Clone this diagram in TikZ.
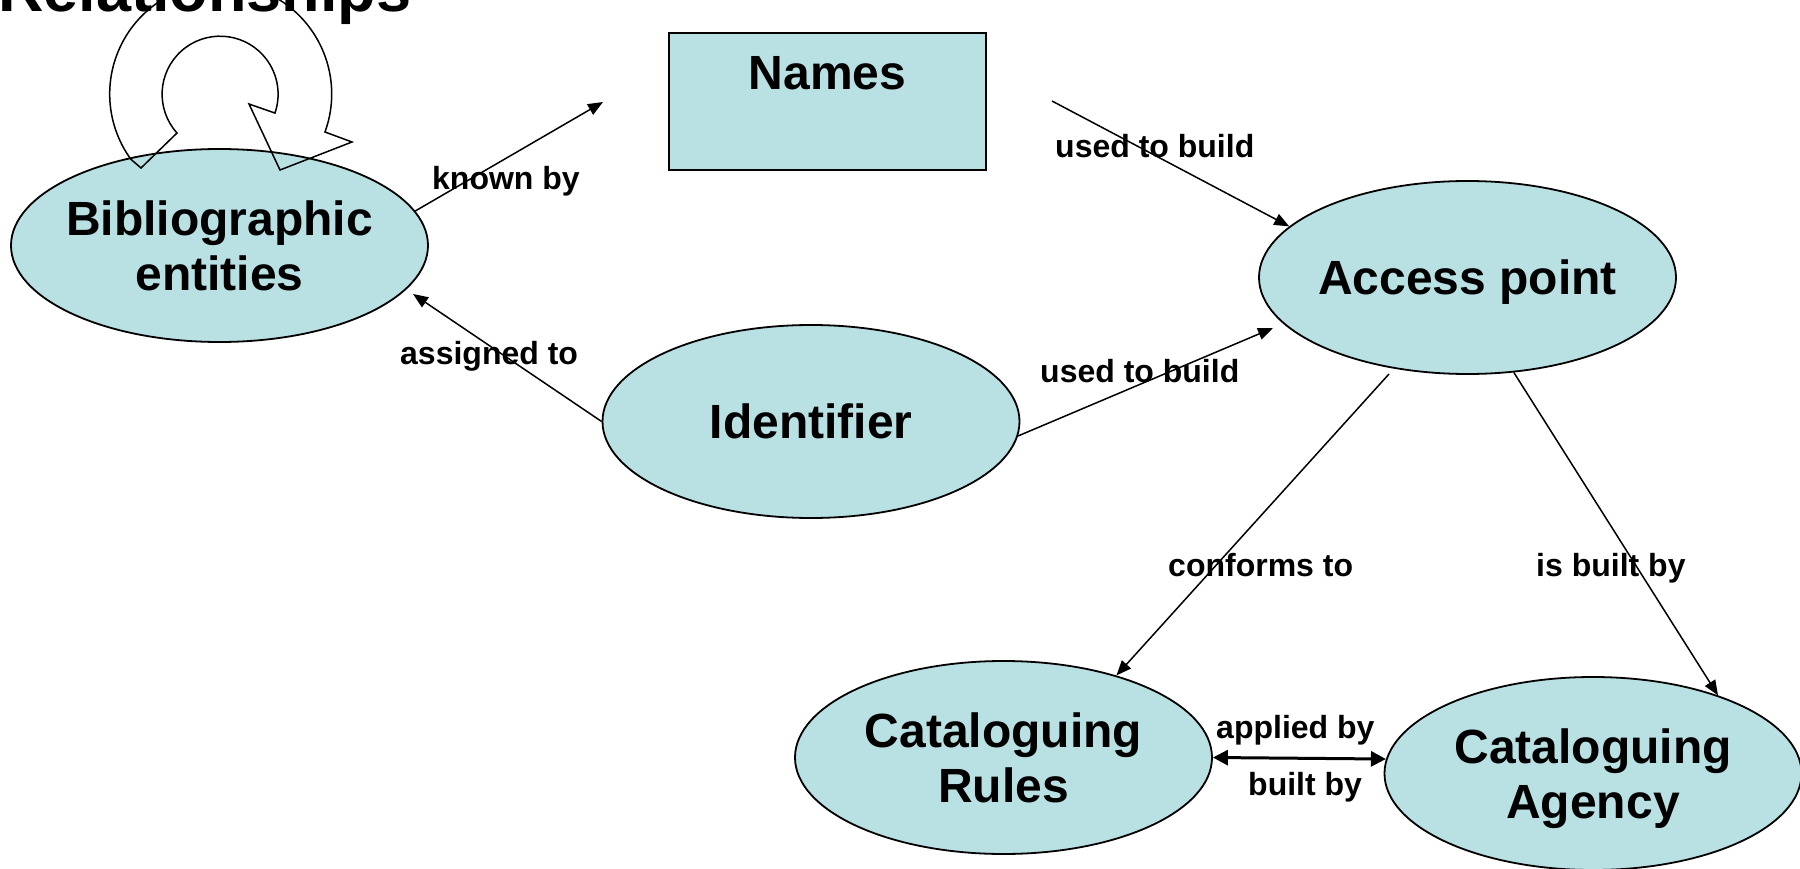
\documentclass[tikz,border=0pt]{standalone}
\usepackage{fontspec}
\setmainfont{Liberation Sans}
\usetikzlibrary{shapes.geometric,arrows.meta}
\definecolor{entfill}{RGB}{185,224,227}
\begin{document}
\begin{tikzpicture}[x=1pt,y=-1pt,
  ent/.style={ellipse, draw=black, line width=1.8pt, fill=entfill, minimum width=417pt, minimum height=193pt, inner sep=0pt},
  enttext/.style={font=\fontsize{48}{55}\selectfont\bfseries, align=center, inner sep=0pt, text depth=0pt},
  rellabel/.style={font=\fontsize{32}{38}\selectfont\bfseries, anchor=base west, inner sep=0pt},
  conn/.style={line width=1.5pt, -{Triangle[length=15pt,width=12pt]}},
  bothconn/.style={line width=3pt, {Triangle[length=15pt,width=15pt]}-{Triangle[length=15pt,width=15pt]}},
  loopline/.style={line width=1.5pt, line join=miter}
]
\useasboundingbox (0,0) rectangle (1800,869);

% title
\node[font=\fontsize{63}{70}\selectfont\bfseries, anchor=base west, inner sep=0pt] (title) at (-2,12) {Relationships};

% entities
\node[ent] (bib) at (219.5,245.5) {};
\node[enttext] (bibt) at (bib.center) {Bibliographic\\entities};

% self-loop block arrow (drawn over the ellipse)
\draw[loopline] (177,133) arc[start angle=-222, end angle=19, radius=58]
  -- (249,104) -- (280,170) -- (352,142) -- (325,132)
  arc[start angle=20, end angle=-216, radius=111] -- (141,168) -- cycle;

\node[draw=black, line width=1.5pt, fill=entfill, minimum width=317pt, minimum height=137pt, inner sep=0pt] (names) at (827.5,101.5) {};
\node[enttext, anchor=base] (namest) at (827.5,90) {Names};

\node[ent] (acc) at (1467.5,277.5) {};
\node[enttext] (acct) at (acc.center) {Access point};

\node[ent] (idf) at (811,421.5) {};
\node[enttext] (idft) at (idf.center) {Identifier};

\node[ent] (rul) at (1003.5,757.5) {};
\node[enttext] (rult) at (rul.center) {Cataloguing\\Rules};

\node[ent] (agy) at (1593,773.5) {};
\node[enttext] (agyt) at (agy.center) {Cataloguing\\Agency};

% free ends
\coordinate (knownend) at (603,102);
\coordinate (namesout) at (1052,101);
\coordinate (assignend) at (413,294);
\coordinate (idaccend) at (1273,328);
\coordinate (accconf) at (1389,374);

% connectors
\draw[conn] (bib.10) -- (knownend);
\draw[conn] (namesout) -- (acc.164);
\draw[conn] (idf.west) -- (assignend);
\draw[conn] (idf.-4.5) -- (idaccend);
\draw[conn] (accconf) -- (rul.36);
\draw[conn] (acc.-64) -- (agy.32);
\draw[bothconn] (rul.east) -- (agy.176);

% labels
\node[rellabel] (lknown) at (432,190) {known by};
\node[rellabel] (lused1) at (1055,158) {used to build};
\node[rellabel] (lassign) at (400,364) {assigned to};
\node[rellabel] (lused2) at (1040,382) {used to build};
\node[rellabel] (lconf) at (1168,576) {conforms to};
\node[rellabel] (lisbuilt) at (1536,576) {is built by};
\node[rellabel] (lapplied) at (1216,738) {applied by};
\node[rellabel] (lbuilt) at (1248,795) {built by};
\end{tikzpicture}
\end{document}
